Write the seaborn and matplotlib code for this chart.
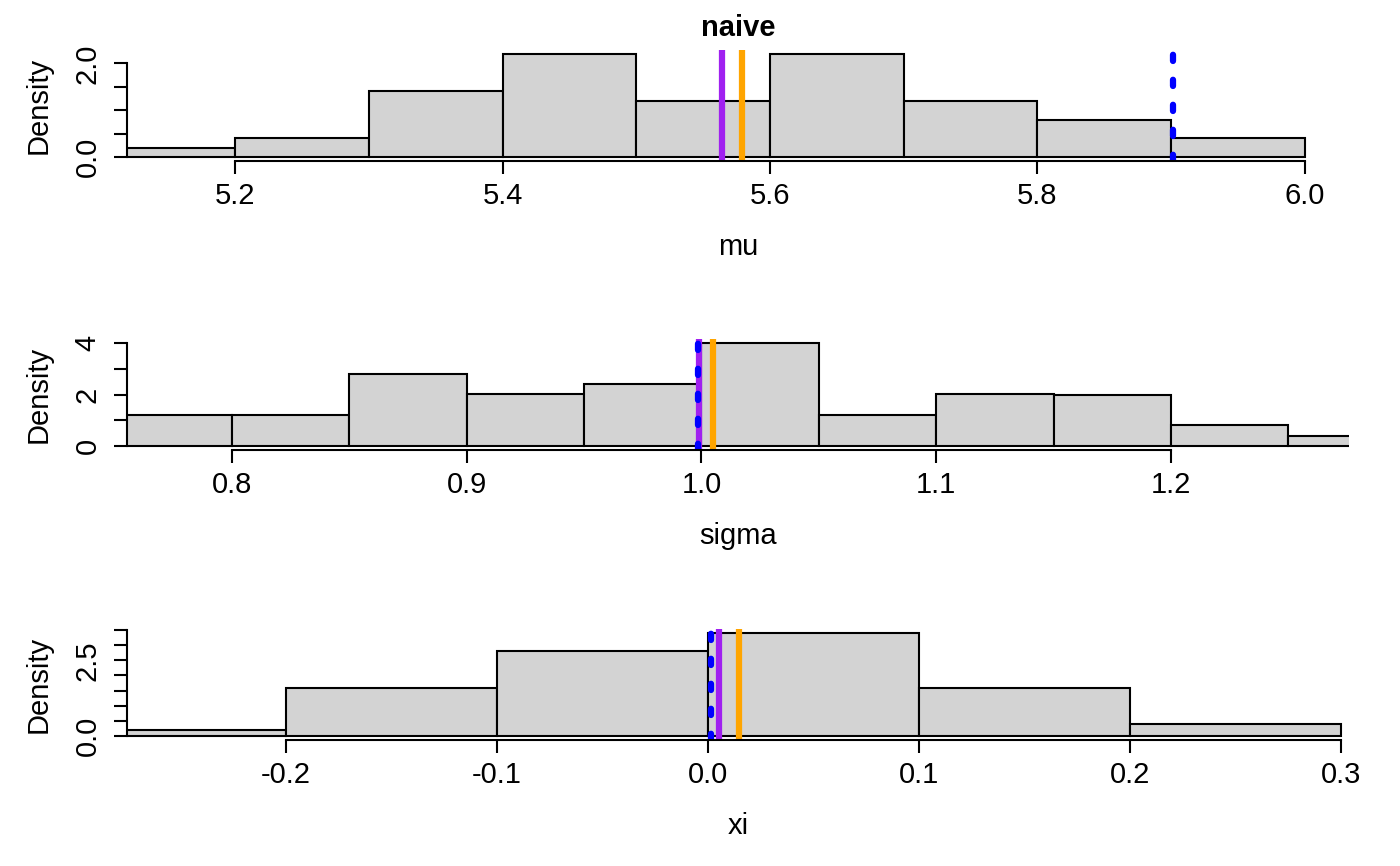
import numpy as np
import pandas as pd
import matplotlib
matplotlib.use("Agg")
import matplotlib.pyplot as plt
import seaborn as sns

# histogram bins and counts (n = 50 per parameter)
mu_edges = [5.1, 5.2, 5.3, 5.4, 5.5, 5.6, 5.7, 5.8, 5.9, 6.0]
mu_counts = [1, 2, 7, 11, 6, 11, 6, 4, 2]
sigma_edges = [0.75, 0.80, 0.85, 0.90, 0.95, 1.00, 1.05, 1.10, 1.15, 1.20, 1.25, 1.30]
sigma_counts = [3, 3, 7, 5, 6, 10, 3, 5, 5, 2, 1]
xi_edges = [-0.3, -0.2, -0.1, 0.0, 0.1, 0.2, 0.3]
xi_counts = [1, 8, 14, 17, 8, 2]

# reference lines: purple, orange, blue dotted
purple_vals = [5.564, 0.9989, 0.0051]
orange_vals = [5.579, 1.0047, 0.0148]
blue_vals = [5.901, 0.9987, 0.0014]

# axis ticks
mu_xticks = [5.2, 5.4, 5.6, 5.8, 6.0]
mu_xlabels = ["5.2", "5.4", "5.6", "5.8", "6.0"]
sigma_xticks = [0.8, 0.9, 1.0, 1.1, 1.2]
sigma_xlabels = ["0.8", "0.9", "1.0", "1.1", "1.2"]
xi_xticks = [-0.2, -0.1, 0.0, 0.1, 0.2, 0.3]
xi_xlabels = ["-0.2", "-0.1", "0.0", "0.1", "0.2", "0.3"]
mu_yticks = [0, 0.5, 1.0, 1.5, 2.0]
mu_ylabels = ["0.0", "", "", "", "2.0"]
sigma_yticks = [0, 1, 2, 3, 4]
sigma_ylabels = ["0", "", "2", "", "4"]
xi_yticks = [0, 0.5, 1.0, 1.5, 2.0, 2.5, 3.0, 3.5]
xi_ylabels = ["0.0", "", "", "", "", "2.5", "", ""]

sns.set_style("white")
plt.rcParams["font.family"] = ["Liberation Sans", "DejaVu Sans"]
plt.rcParams["font.size"] = 21
for k in ["text.color", "axes.labelcolor", "xtick.color", "ytick.color"]:
    plt.rcParams[k] = "black"

W, H = 1400, 866
fig = plt.figure(figsize=(14, 8.66), dpi=100)

panels = [
    dict(edges=mu_edges, counts=mu_counts, name="mu", top=50, xlim=(5.119, 6.033), ylim=(-0.088, 2.288),
         xt=mu_xticks, xl=mu_xlabels, yt=mu_yticks, yl=mu_ylabels),
    dict(edges=sigma_edges, counts=sigma_counts, name="sigma", top=339, xlim=(0.7553, 1.2758), ylim=(-0.16, 4.16),
         xt=sigma_xticks, xl=sigma_xlabels, yt=sigma_yticks, yl=sigma_ylabels),
    dict(edges=xi_edges, counts=xi_counts, name="xi", top=629, xlim=(-0.2754, 0.3038), ylim=(-0.136, 3.536),
         xt=xi_xticks, xl=xi_xlabels, yt=xi_yticks, yl=xi_ylabels),
]

left_px, right_px, h_px = 127, 1349, 111
fs = 21

for i, p in enumerate(panels):
    ax = fig.add_axes([left_px / W, 1 - (p["top"] + h_px) / H, (right_px - left_px) / W, h_px / H])
    edges = p["edges"]
    df = pd.DataFrame({
        "x": [(a + b) / 2 for a, b in zip(edges[:-1], edges[1:])],
        "n": p["counts"],
    })
    sns.histplot(data=df, x="x", weights="n", bins=list(edges), stat="density", ax=ax,
                 color="#D3D3D3", edgecolor="black", linewidth=1.5, alpha=1)
    ax.axvline(orange_vals[i], color="#FFA500", lw=4.5)
    ax.axvline(purple_vals[i], color="#A020F0", lw=4.5)
    ax.axvline(blue_vals[i], color="#0000FF", lw=4.5, linestyle=(0, (1, 3)), dash_capstyle="round")
    ax.set_xlim(p["xlim"])
    ax.set_ylim(p["ylim"])
    ax.set_xticks(p["xt"], p["xl"])
    ax.set_yticks(p["yt"], p["yl"], rotation=90, va="center")
    for s in ["top", "right"]:
        ax.spines[s].set_visible(False)
    ax.spines["left"].set_bounds(p["yt"][0], p["yt"][-1])
    ax.spines["bottom"].set_bounds(p["xt"][0], p["xt"][-1])
    for s in ["left", "bottom"]:
        ax.spines[s].set_linewidth(1.5)
        ax.spines[s].set_color("black")
    ax.tick_params(bottom=True, left=True, direction="out", length=9.4, width=1.5,
                   color="black", labelcolor="black", labelsize=fs)
    ax.tick_params(axis="x", pad=6)
    ax.tick_params(axis="y", pad=9)
    ax.set_xlabel(p["name"], fontsize=fs)
    ax.set_ylabel("Density", fontsize=fs)
    ax.xaxis.set_label_coords(0.5, -(233 - 161) / h_px)
    ax.yaxis.set_label_coords(-(left_px - 53) / (right_px - left_px), 0.5)
    if i == 0:
        ax.set_title("naive", fontweight="bold", fontsize=fs, pad=10)

fig.savefig("out.png", dpi=100)
